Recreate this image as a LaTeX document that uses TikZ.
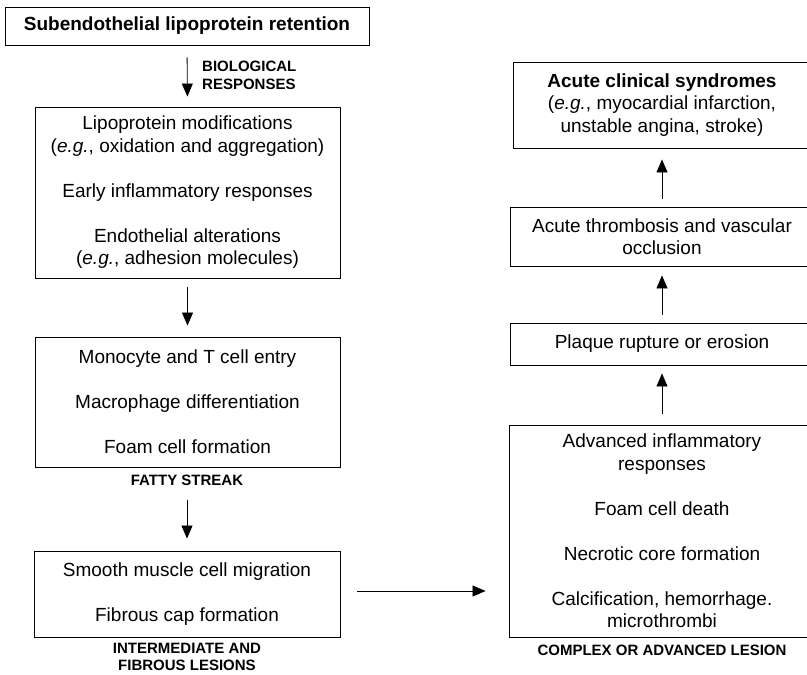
\documentclass[tikz,border=0pt]{standalone}
\usepackage{fontspec}
\setmainfont{Liberation Sans}
\usetikzlibrary{arrows.meta}

\tikzset{
  stagebox/.style={draw, line width=0.9pt, inner sep=0pt, align=center,
    font=\fontsize{19}{22.5}\selectfont},
  caplabel/.style={inner sep=0pt, align=center,
    font=\bfseries\fontsize{15}{18}\selectfont},
  flow/.style={-{Triangle[width=11pt,length=13pt]}, line width=0.8pt},
}

\begin{document}
\begin{tikzpicture}[x=1pt, y=-1pt]
	\useasboundingbox (0,0) rectangle (807,675);
	\fill[white] (0,0) rectangle (807,675);
	
	% left column
	\node[stagebox, font=\bfseries\fontsize{19}{22.5}\selectfont, minimum width=364pt, minimum height=38pt] (retention) at (187,26) {Subendothelial lipoprotein retention};
	\node[stagebox, minimum width=305pt, minimum height=171pt] (modif) at (187.5,192.5) {Lipoprotein modifications\\(\textit{e.g.}, oxidation and aggregation)\\[22.5pt]Early inflammatory responses\\[22.5pt]Endothelial alterations\\(\textit{e.g.}, adhesion molecules)};
	\node[stagebox, minimum width=305pt, minimum height=130pt] (foam) at (187.5,402) {Monocyte and T cell entry\\[22.5pt]Macrophage differentiation\\[22.5pt]Foam cell formation};
	\node[stagebox, minimum width=306pt, minimum height=86pt] (fibrous) at (187,594) {Smooth muscle cell migration\\[22.5pt]Fibrous cap formation};
	
	\node[caplabel, anchor=west, align=left] (biolbl) at (202,75) {BIOLOGICAL\\RESPONSES};
	\node[caplabel] (fattylbl) at (187,480) {FATTY STREAK};
	\node[caplabel, font=\bfseries\fontsize{15}{17}\selectfont] (interlbl) at (187,657) {INTERMEDIATE AND\\FIBROUS LESIONS};
	
	% right column
	\node[stagebox, minimum width=298pt, minimum height=86pt] (acute) at (662,105) {\textbf{Acute clinical syndromes}\\(\textit{e.g.}, myocardial infarction,\\unstable angina, stroke)};
	\node[stagebox, minimum width=304pt, minimum height=59pt] (thromb) at (662,236.5) {Acute thrombosis and vascular\\occlusion};
	\node[stagebox, minimum width=304pt, minimum height=42pt] (rupture) at (662,344) {Plaque rupture or erosion};
	\node[stagebox, minimum width=306pt, minimum height=212pt] (advanced) at (662,531) {Advanced inflammatory\\responses\\[22.5pt]Foam cell death\\[22.5pt]Necrotic core formation\\[22.5pt]Calcification, hemorrhage.\\microthrombi};
	
	\node[caplabel] (complexlbl) at (662,650) {COMPLEX OR ADVANCED LESION};
	
	% arrows
	\draw[flow, shorten <=12pt, shorten >=10pt] (retention.south) -- (modif.north);
	\draw[flow, shorten <=9pt, shorten >=11pt] (modif.south) -- (foam.north);
	\draw[flow, shorten <=14pt, shorten >=12pt] (fattylbl.south) -- (fibrous.north);
	\draw[flow, shorten <=17pt, shorten >=23pt] ([yshift=3pt]fibrous.east) -- ([yshift=3pt]fibrous.east -| advanced.west);
	\draw[flow, shorten <=11pt, shorten >=8pt] (advanced.north) -- (rupture.south);
	\draw[flow, shorten <=8pt, shorten >=9pt] (rupture.north) -- (thromb.south);
	\draw[flow, shorten <=8pt, shorten >=11pt] (thromb.north) -- (acute.south);
\end{tikzpicture}
\end{document}
